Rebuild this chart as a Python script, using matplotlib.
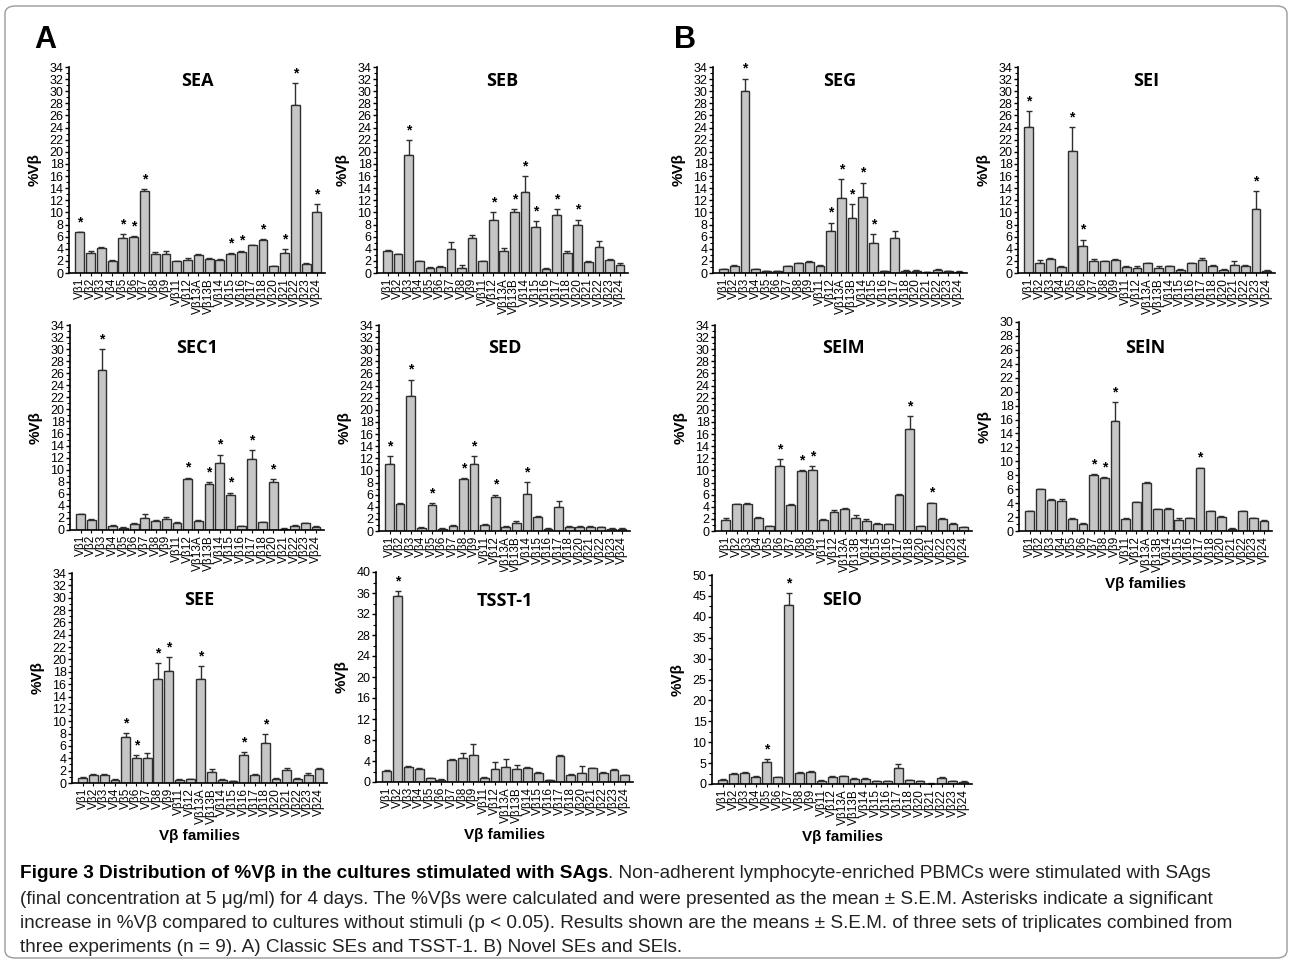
import matplotlib
matplotlib.use("Agg")
import matplotlib.pyplot as plt
from matplotlib.patches import FancyBboxPatch
from matplotlib.ticker import MultipleLocator

plt.rcParams['font.family'] = ['Liberation Sans', 'DejaVu Sans']

families = ["Vβ1", "Vβ2", "Vβ3", "Vβ4", "Vβ5", "Vβ6", "Vβ7", "Vβ8", "Vβ9", "Vβ11",
            "Vβ12", "Vβ13A", "Vβ13B", "Vβ14", "Vβ15", "Vβ16", "Vβ17", "Vβ18", "Vβ20",
            "Vβ21", "Vβ22", "Vβ23", "Vβ24"]

# panel A: classic SEs and TSST-1
sea_mean = [6.7, 3.3, 4.2, 2.0, 5.7, 5.9, 13.6, 3.2, 3.2, 1.9, 2.2, 3.0, 2.3, 2.2, 3.2, 3.5, 4.6, 5.5, 1.1, 3.3, 27.8, 1.5, 10.0]
sea_err = [0.1, 0.3, 0.1, 0.1, 0.7, 0.2, 0.2, 0.3, 0.5, 0.1, 0.2, 0.1, 0.1, 0.1, 0.1, 0.2, 0.1, 0.1, 0.1, 0.6, 3.5, 0.2, 1.4]
sea_sig = [0, 4, 5, 6, 14, 15, 17, 19, 20, 22]

seb_mean = [3.6, 3.1, 19.5, 1.9, 0.9, 1.0, 3.9, 0.9, 5.7, 1.9, 8.8, 3.7, 10.0, 13.3, 7.6, 0.7, 9.5, 3.3, 8.0, 1.8, 4.3, 2.2, 1.4]
seb_err = [0.2, 0.1, 2.4, 0.1, 0.1, 0.1, 1.2, 0.5, 0.5, 0.1, 1.2, 0.5, 0.6, 2.7, 1.0, 0.1, 1.0, 0.3, 0.8, 0.1, 1.0, 0.1, 0.2]
seb_sig = [2, 10, 12, 13, 14, 16, 18]

sec1_mean = [2.6, 1.7, 26.6, 0.7, 0.4, 1.0, 2.0, 1.5, 1.8, 1.1, 8.4, 1.5, 7.7, 11.1, 5.8, 0.6, 11.8, 1.3, 8.0, 0.2, 0.7, 1.1, 0.5]
sec1_err = [0.1, 0.2, 3.4, 0.1, 0.1, 0.2, 0.6, 0.1, 0.3, 0.3, 0.3, 0.1, 0.3, 1.4, 0.4, 0.1, 1.5, 0.1, 0.5, 0.1, 0.1, 0.1, 0.1]
sec1_sig = [2, 10, 12, 13, 14, 16, 18]

sed_mean = [11.0, 4.5, 22.2, 0.5, 4.3, 0.4, 0.9, 8.6, 11.0, 1.0, 5.6, 0.7, 1.4, 6.1, 2.3, 0.4, 3.9, 0.7, 0.7, 0.7, 0.6, 0.4, 0.4]
sed_err = [1.4, 0.1, 2.8, 0.1, 0.3, 0.1, 0.1, 0.1, 1.3, 0.2, 0.4, 0.1, 0.2, 2.0, 0.2, 0.1, 1.1, 0.1, 0.1, 0.1, 0.1, 0.1, 0.1]
sed_sig = [0, 2, 4, 7, 8, 10, 13]

see_mean = [0.8, 1.3, 1.3, 0.5, 7.5, 4.0, 4.1, 16.9, 18.1, 0.5, 0.6, 16.8, 1.8, 0.5, 0.3, 4.5, 1.3, 6.4, 0.7, 2.1, 0.7, 1.3, 2.3]
see_err = [0.1, 0.1, 0.2, 0.1, 0.6, 0.5, 0.7, 2.5, 2.3, 0.1, 0.1, 2.1, 0.5, 0.1, 0.1, 0.5, 0.2, 1.5, 0.1, 0.4, 0.1, 0.4, 0.2]
see_sig = [4, 5, 7, 8, 11, 15, 17]

tsst_mean = [2.1, 35.4, 2.9, 2.4, 0.7, 0.4, 4.2, 4.6, 5.1, 0.8, 2.5, 2.9, 2.4, 2.7, 1.8, 0.3, 5.0, 1.4, 1.8, 2.6, 1.8, 2.3, 1.3]
tsst_err = [0.1, 0.9, 0.1, 0.3, 0.1, 0.1, 0.1, 0.9, 2.1, 0.1, 1.4, 1.5, 0.9, 0.1, 0.1, 0.1, 0.2, 0.1, 1.3, 0.1, 0.1, 0.1, 0.1]
tsst_sig = [1]

# panel B: novel SEs and SEls
seg_mean = [0.6, 1.2, 30.0, 0.6, 0.3, 0.3, 1.1, 1.6, 1.8, 1.2, 6.9, 12.3, 9.0, 12.6, 5.0, 0.3, 5.8, 0.4, 0.4, 0.1, 0.5, 0.3, 0.2]
seg_err = [0.1, 0.1, 2.1, 0.1, 0.1, 0.1, 0.1, 0.1, 0.1, 0.1, 1.4, 3.2, 2.4, 2.3, 1.4, 0.1, 1.1, 0.1, 0.1, 0.05, 0.2, 0.1, 0.1]
seg_sig = [2, 10, 11, 12, 13, 14]

sei_mean = [24.1, 1.7, 2.3, 1.0, 20.1, 4.4, 2.0, 1.9, 2.2, 1.0, 0.9, 1.6, 0.9, 1.1, 0.5, 1.6, 2.2, 1.2, 0.5, 1.3, 1.2, 10.5, 0.4]
sei_err = [2.6, 0.5, 0.1, 0.1, 4.0, 1.1, 0.3, 0.1, 0.1, 0.1, 0.2, 0.1, 0.2, 0.1, 0.1, 0.1, 0.3, 0.2, 0.2, 0.7, 0.2, 3.0, 0.1]
sei_sig = [0, 4, 5, 21]

seim_mean = [1.8, 4.4, 4.5, 2.2, 0.8, 10.8, 4.3, 9.9, 10.1, 1.8, 3.2, 3.6, 2.1, 1.7, 1.2, 1.1, 6.0, 16.8, 0.8, 4.6, 2.0, 1.2, 0.6]
seim_err = [0.3, 0.1, 0.1, 0.1, 0.1, 1.1, 0.1, 0.2, 0.6, 0.1, 0.2, 0.2, 0.5, 0.2, 0.1, 0.1, 0.1, 2.1, 0.1, 0.1, 0.1, 0.1, 0.1]
seim_sig = [5, 7, 8, 17, 19]

sein_mean = [2.8, 6.0, 4.5, 4.3, 1.7, 1.0, 8.0, 7.6, 15.8, 1.7, 4.1, 6.9, 3.1, 3.2, 1.6, 1.8, 9.0, 2.8, 2.0, 0.3, 2.8, 1.8, 1.5]
sein_err = [0.1, 0.1, 0.1, 0.3, 0.2, 0.1, 0.2, 0.1, 2.7, 0.1, 0.1, 0.1, 0.1, 0.1, 0.2, 0.1, 0.1, 0.1, 0.1, 0.1, 0.1, 0.1, 0.1]
sein_sig = [6, 7, 8, 16]

seio_mean = [1.0, 2.5, 2.7, 1.7, 5.3, 1.6, 42.8, 2.7, 2.9, 0.8, 1.7, 1.9, 1.3, 1.3, 0.6, 0.7, 3.9, 0.9, 0.6, 0.1, 1.5, 0.6, 0.5]
seio_err = [0.1, 0.1, 0.1, 0.1, 0.6, 0.1, 2.8, 0.1, 0.1, 0.1, 0.1, 0.1, 0.1, 0.1, 0.1, 0.1, 0.9, 0.1, 0.1, 0.05, 0.1, 0.1, 0.1]
seio_sig = [4, 6]

W, H = 1292, 964
fig = plt.figure(figsize=(W / 100, H / 100), dpi=100)

# (title, mean, err, sig, ymax, step, (left, top, right, bottom) px, title_y, xlabel)
panels = [
    ("SEA", sea_mean, sea_err, sea_sig, 34, 2, (69, 67, 325, 273), 0.93, False),
    ("SEB", seb_mean, seb_err, seb_sig, 34, 2, (377, 67, 628, 273), 0.93, False),
    ("SEC1", sec1_mean, sec1_err, sec1_sig, 34, 2, (70, 325, 324, 530), 0.89, False),
    ("SED", sed_mean, sed_err, sed_sig, 34, 2, (379, 325, 630, 531), 0.89, False),
    ("SEE", see_mean, see_err, see_sig, 34, 2, (72, 573, 327, 783), 0.87, True),
    ("TSST-1", tsst_mean, tsst_err, tsst_sig, 40, 4, (376, 572, 633, 782), 0.86, True),
    ("SEG", seg_mean, seg_err, seg_sig, 34, 2, (713, 67, 967, 273), 0.93, False),
    ("SEI", sei_mean, sei_err, sei_sig, 34, 2, (1018, 67, 1275, 273), 0.93, False),
    ("SElM", seim_mean, seim_err, seim_sig, 34, 2, (715, 325, 972, 531), 0.89, False),
    ("SElN", sein_mean, sein_err, sein_sig, 30, 2, (1019, 322, 1272, 531), 0.875, True),
    ("SElO", seio_mean, seio_err, seio_sig, 50, 5, (712, 575, 972, 784), 0.88, True),
]

x = list(range(len(families)))

for title, mean, err, sig, ymax, step, (l, t, r, b), ty, has_xlabel in panels:
    ax = fig.add_axes([l / W, 1 - b / H, (r - l) / W, (b - t) / H])
    ax.bar(x, mean, width=0.82, color="#c6c6c6", edgecolor="#2e2e2e", linewidth=1.0, zorder=2)
    ax.errorbar(x, mean, yerr=[[0] * len(err), err], fmt="none", ecolor="#2e2e2e",
                elinewidth=1.0, capsize=2.5, capthick=1.0, zorder=1)
    for i in sig:
        ax.annotate("*", (i, mean[i] + err[i]), xytext=(0, 2), textcoords="offset points",
                    ha="center", va="bottom", fontsize=10, fontweight="bold", annotation_clip=False)
    ax.set_xlim(-1.0, len(families) - 0.25)
    ax.set_ylim(0, ymax)
    ax.yaxis.set_major_locator(MultipleLocator(step))
    ax.yaxis.set_minor_locator(MultipleLocator(step / 2))
    ax.set_xticks(x)
    ax.set_xticklabels(families, rotation=90, fontsize=8.5)
    ax.tick_params(axis="y", labelsize=9, length=3, width=1, pad=1)
    ax.tick_params(axis="y", which="minor", length=2, width=0.8)
    ax.tick_params(axis="x", length=2.5, width=0.8, pad=1)
    for side in ("top", "right"):
        ax.spines[side].set_visible(False)
    for side in ("left", "bottom"):
        ax.spines[side].set_linewidth(1.2)
    ax.set_ylabel("%Vβ", fontsize=11, fontweight="bold")
    ax.yaxis.set_label_coords(-27 / (r - l), 0.5)
    ax.text(0.5, ty, title, transform=ax.transAxes, ha="center", va="center",
            fontsize=13, fontweight="bold", family=["Open Sans", "DejaVu Sans"])
    if has_xlabel:
        ax.set_xlabel("Vβ families", fontsize=11, fontweight="bold", labelpad=4)

fig.text(45 / W, 1 - 40 / H, "A", fontsize=22, fontweight="bold", ha="center", va="center")
fig.text(685 / W, 1 - 40 / H, "B", fontsize=22, fontweight="bold", ha="center", va="center")

# outer frame
frame = FancyBboxPatch((5 / W, 6 / H), 1282 / W, 952 / H, boxstyle="round,pad=0,rounding_size=0.008",
                       transform=fig.transFigure, fill=False, edgecolor="#9a9a9a", linewidth=1.0)
fig.patches.append(frame)

# caption
cap_font = ["Liberation Sans", "DejaVu Sans"]
cap_size = 13.7
bold_part = "Figure 3 Distribution of %Vβ in the cultures stimulated with SAgs"
first_rest = ". Non-adherent lymphocyte-enriched PBMCs were stimulated with SAgs"
other_lines = [
    "(final concentration at 5 μg/ml) for 4 days. The %Vβs were calculated and were presented as the mean ± S.E.M. Asterisks indicate a significant",
    "increase in %Vβ compared to cultures without stimuli (p < 0.05). Results shown are the means ± S.E.M. of three sets of triplicates combined from",
    "three experiments (n = 9). A) Classic SEs and TSST-1. B) Novel SEs and SEls.",
]
x0 = 20 / W
bold = fig.text(x0, 1 - 874 / H, bold_part, fontsize=cap_size, fontweight="bold",
                family=cap_font, ha="left", va="center")
renderer = fig.canvas.get_renderer()
bb = bold.get_window_extent(renderer=renderer)
fig.text(bb.x1 / W, 1 - 874 / H, first_rest, fontsize=cap_size, family=cap_font,
         ha="left", va="center", color="#222222")
for k, line in enumerate(other_lines):
    fig.text(x0, 1 - (899 + 24 * k) / H, line, fontsize=cap_size, family=cap_font,
             ha="left", va="center", color="#222222")

fig.savefig("out.png", dpi=100)
